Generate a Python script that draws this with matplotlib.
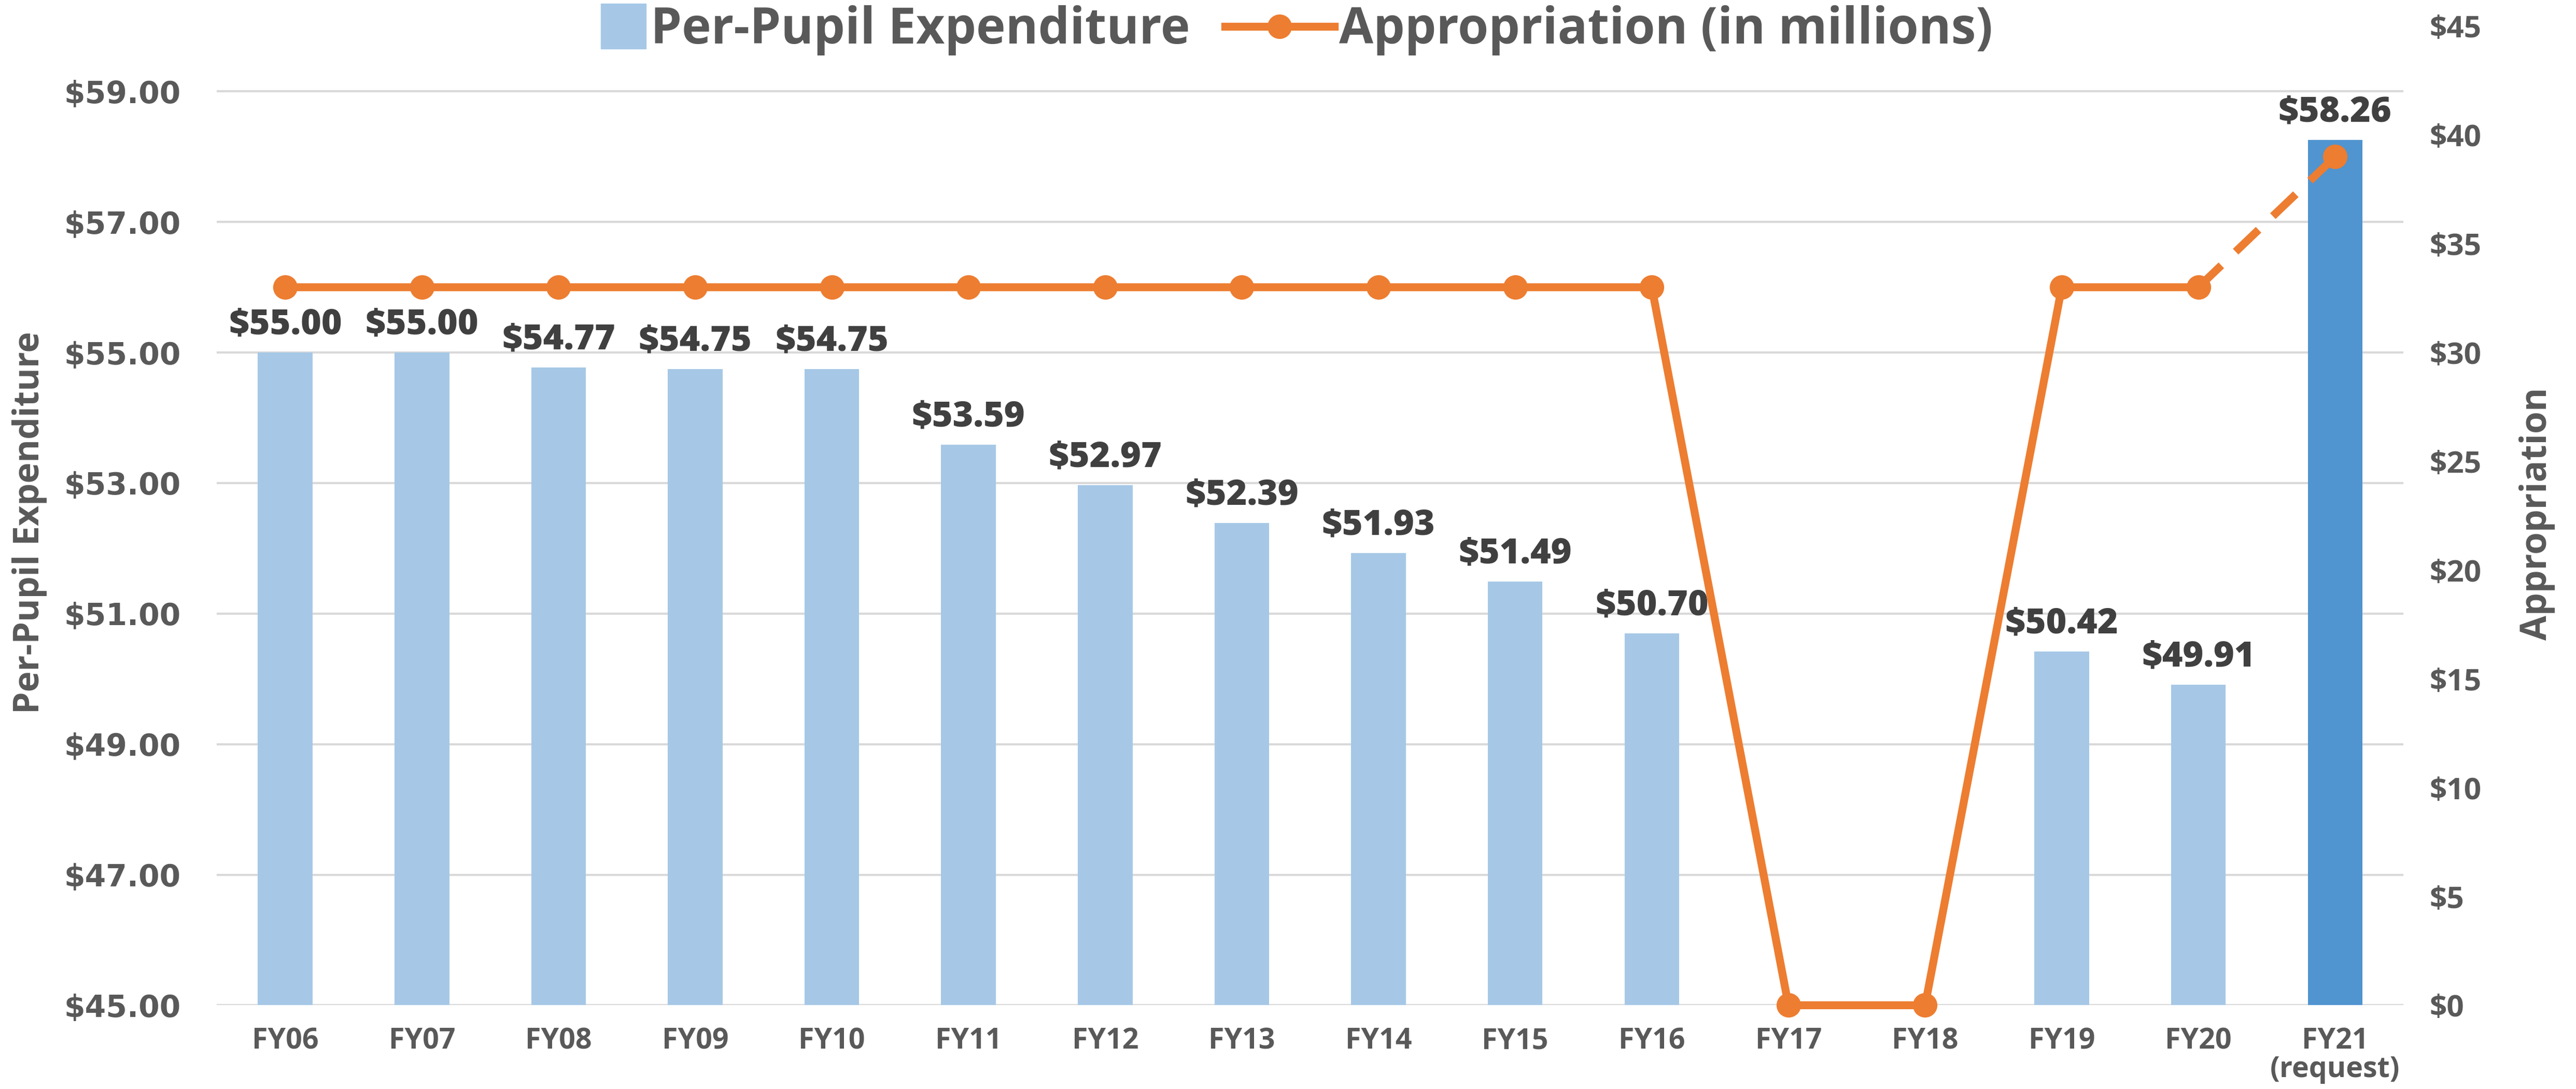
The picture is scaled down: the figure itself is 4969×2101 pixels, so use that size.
import numpy as np
import matplotlib.pyplot as plt
import matplotlib.patches as mpatches
from matplotlib.lines import Line2D
from matplotlib.legend_handler import HandlerPatch

# Dane z wykresu
years = ['FY06', 'FY07', 'FY08', 'FY09', 'FY10', 'FY11', 'FY12', 'FY13',
         'FY14', 'FY15', 'FY16', 'FY17', 'FY18', 'FY19', 'FY20', 'FY21\n(request)']
per_pupil = [55.00, 55.00, 54.77, 54.75, 54.75, 53.59, 52.97, 52.39,
             51.93, 51.49, 50.70, None, None, 50.42, 49.91, 58.26]
appropriation = [33, 33, 33, 33, 33, 33, 33, 33, 33, 33, 33, 0, 0, 33, 33, 39]

left_ticks = [45, 47, 49, 51, 53, 55, 57, 59]
right_ticks = [0, 5, 10, 15, 20, 25, 30, 35, 40, 45]

BAR = '#A6C8E6'
BAR_REQ = '#5094D0'
ORANGE = '#ED7D31'
GRAY = '#595959'
DARK = '#404040'
SANS = ['Open Sans', 'DejaVu Sans']

fig = plt.figure(figsize=(49.69, 21.01), dpi=100)
ax = fig.add_axes([0.0842, 0.0769, 0.933 - 0.0842, 0.976 - 0.0769])
ax2 = ax.twinx()

x = np.arange(len(years))
idx = [i for i, v in enumerate(per_pupil) if v is not None]
vals = [per_pupil[i] for i in idx]
colors = [BAR_REQ if i == len(years) - 1 else BAR for i in idx]
ax.bar(x[idx], vals, width=0.4, color=colors, zorder=2)

for i, v in zip(idx, vals):
    ax.annotate(f'${v:.2f}', (i, v), xytext=(0, 14), textcoords='offset points',
                ha='center', va='bottom', fontsize=49, fontweight='heavy',
                color=DARK, family=SANS)

ax.set_ylim(45, 60)
ax.set_xlim(-0.5, len(years) - 0.5)
ax.set_yticks(left_ticks)
ax.set_yticklabels([f'${t:.2f}' for t in left_ticks], fontsize=42,
                   fontweight='bold', color=GRAY, family='DejaVu Sans')
ax.yaxis.grid(True, color='#D9D9D9', linewidth=3, zorder=0)
ax.set_axisbelow(True)
ax.set_xticks(x)
ax.set_xticklabels(years, fontsize=40, fontweight='bold', color=GRAY,
                   family=SANS, linespacing=1.0)
ax.tick_params(axis='y', length=0, pad=50)
ax.tick_params(axis='x', length=0, pad=30)

# Linia przydziału
ax2.plot(x[:15], appropriation[:15], color=ORANGE, linewidth=11, marker='o',
         markersize=33, clip_on=False, zorder=3)
ax2.plot(x[14:], appropriation[14:], color=ORANGE, linewidth=11,
         linestyle=(0, (4, 2.5)), dash_capstyle='butt', clip_on=False, zorder=3)
ax2.plot(x[15:], appropriation[15:], color=ORANGE, linestyle='none', marker='o',
         markersize=33, clip_on=False, zorder=3)
ax2.set_ylim(0, 45)
ax2.set_yticks(right_ticks)
ax2.set_yticklabels([f'${t}' for t in right_ticks], fontsize=42,
                    fontweight='bold', color=GRAY, family=SANS)
ax2.tick_params(axis='y', length=0, pad=36)

for a in (ax, ax2):
    for s in a.spines.values():
        s.set_visible(False)

fig.text(0.0115, 0.52, 'Per-Pupil Expenditure', rotation=90, ha='center',
         va='center', fontsize=49, fontweight='bold', color=GRAY, family=SANS)
fig.text(0.985, 0.528, 'Appropriation', rotation=90, ha='center',
         va='center', fontsize=50, fontweight='bold', color=GRAY, family=SANS)


def square(legend, orig_handle, xdescent, ydescent, width, height, fontsize):
    h = height * 1.3
    return mpatches.Rectangle((width - h, -ydescent - 0.15 * height), h, h)


handles = [mpatches.Patch(color=BAR),
           Line2D([], [], color=ORANGE, linewidth=11, marker='o', markersize=33)]
leg = fig.legend(handles, ['Per-Pupil Expenditure', 'Appropriation (in millions)'],
                 loc='center', bbox_to_anchor=(0.491, 0.972), ncol=2, frameon=False,
                 handlelength=2.2, handletextpad=0.1, columnspacing=0.7,
                 handler_map={mpatches.Patch: HandlerPatch(patch_func=square)},
                 prop={'family': SANS, 'weight': 'bold', 'size': 69})
for t in leg.get_texts():
    t.set_color(GRAY)

fig.savefig('out.png', dpi=100)
